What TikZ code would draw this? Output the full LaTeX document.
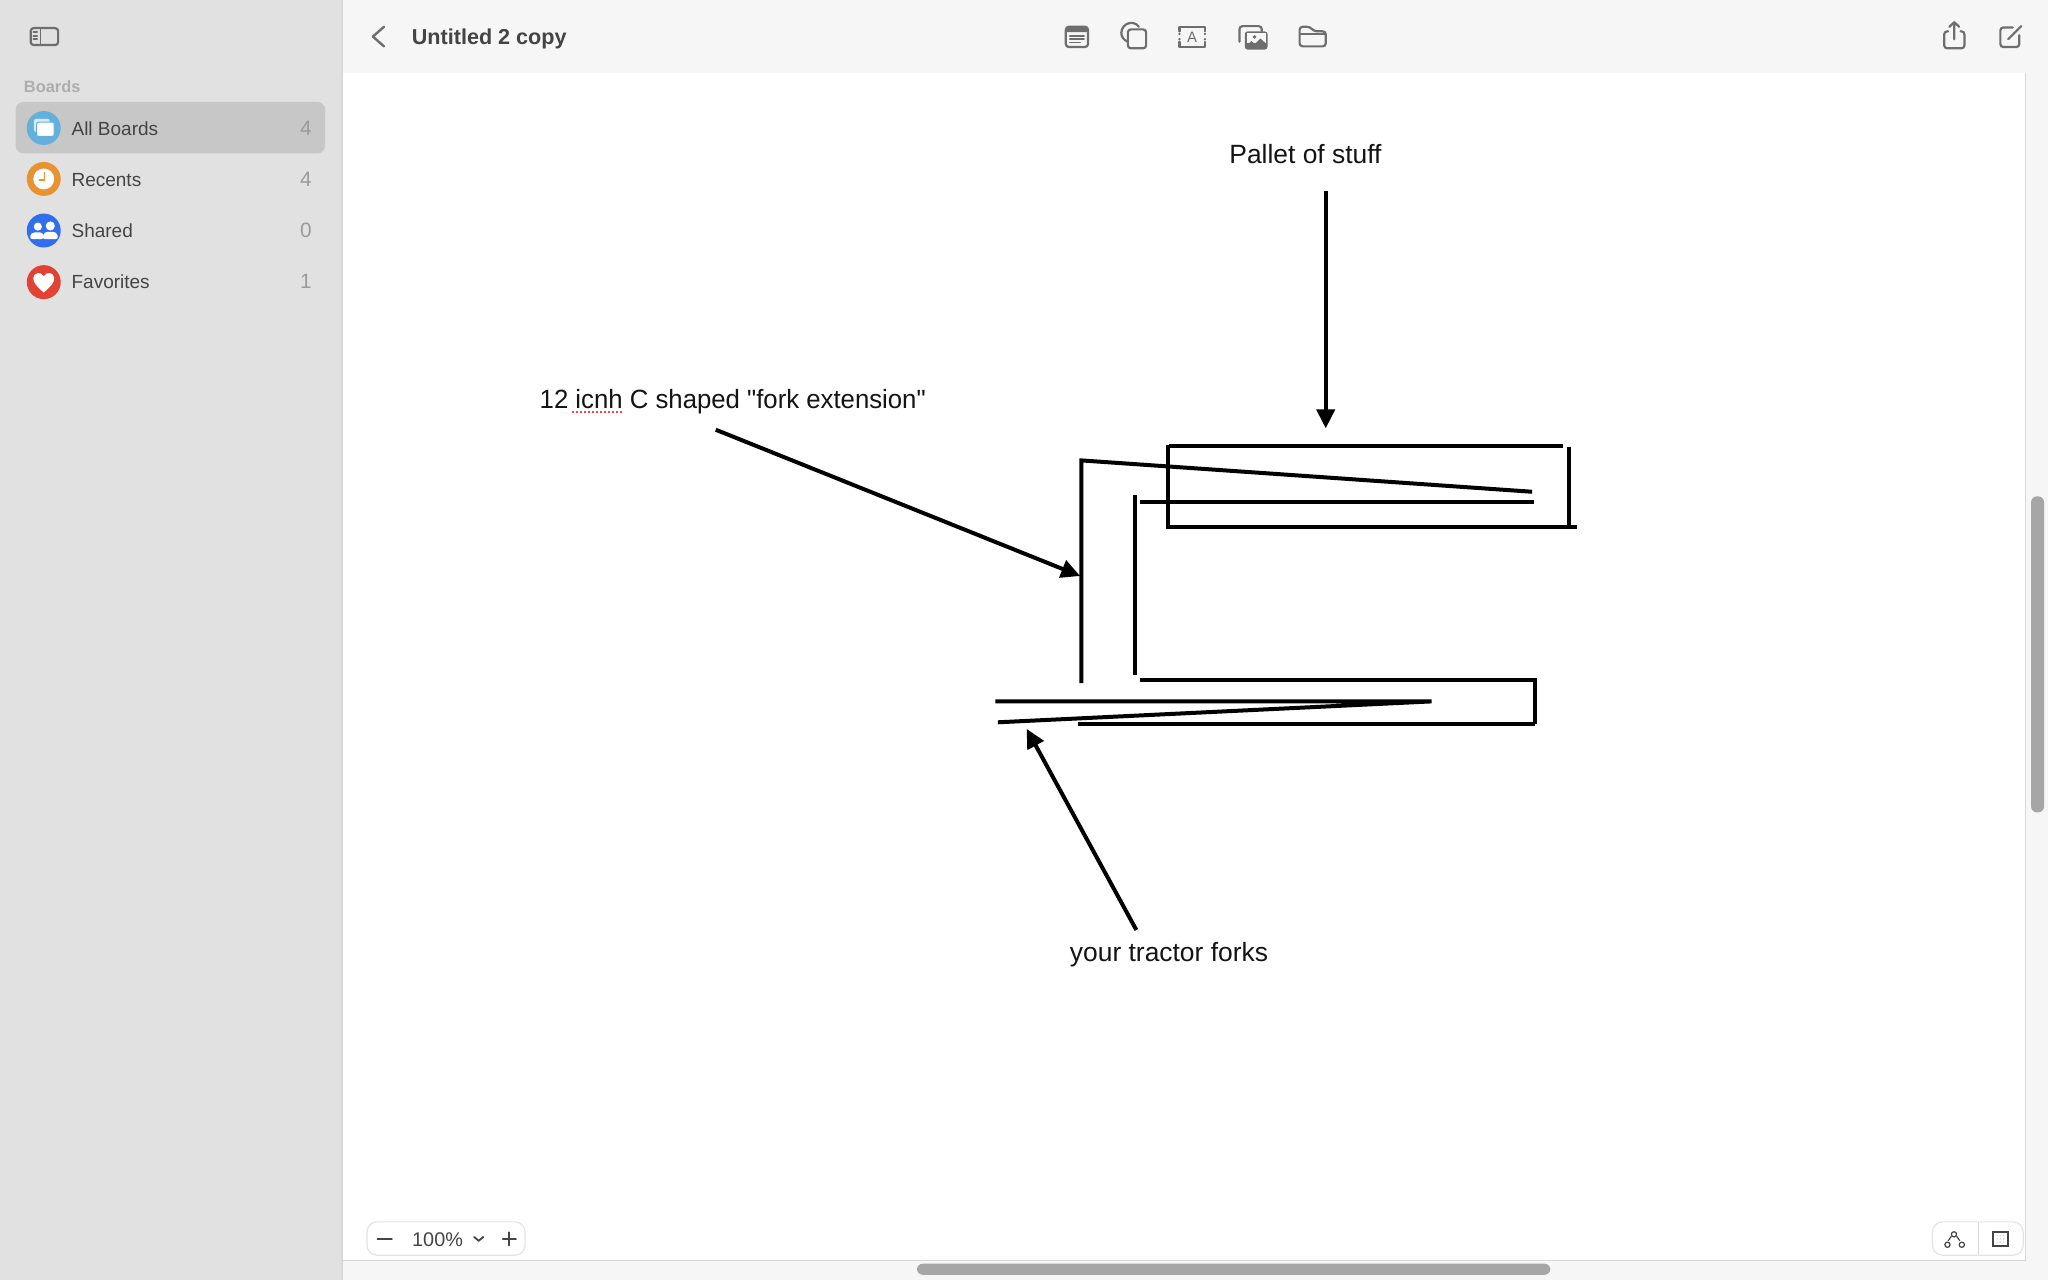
\documentclass[tikz,border=0pt]{standalone}
\usepackage{fontspec}
\usepackage{graphicx}
\setmainfont{Liberation Sans}
\newfontfamily\plainsans{Liberation Sans}
\usetikzlibrary{arrows.meta}
\definecolor{side}{HTML}{E0E1E0}
\definecolor{bar}{HTML}{F6F6F6}
\definecolor{hilite}{HTML}{C6C7C6}
\definecolor{icon}{HTML}{6E6E6E}
\definecolor{itemtext}{HTML}{444444}
\definecolor{count}{HTML}{9A9A9A}
\definecolor{sep}{HTML}{D8D8D8}
\definecolor{thumb}{HTML}{A6A6A6}
\definecolor{cblue}{HTML}{63B0DC}
\definecolor{corange}{HTML}{E89232}
\definecolor{croyal}{HTML}{316EEB}
\definecolor{cred}{HTML}{E24234}
\tikzset{
  x=0.65306pt,y=-0.65306pt,
  ink/.style={line width=2pt,black,line cap=butt,line join=miter},
  pointer/.style={ink,-{Triangle[length=9.5pt,width=9pt]}},
  label/.style={inner sep=0pt,anchor=base,font=\fontsize{13.2}{16}\selectfont\plainsans,text=black!92},
  item/.style={inner sep=0pt,anchor=base west,font=\fontsize{9.5}{12}\selectfont,text=itemtext},
  cnt/.style={inner sep=0pt,anchor=base east,font=\fontsize{10.4}{12}\selectfont,text=count},
  ic/.style={icon,line width=1.1pt,line join=round,line cap=round},
  pill/.style={draw=sep!70!white,fill=white,line width=0.6pt,rounded corners=5pt}
}
\begin{document}
\begin{tikzpicture}
\useasboundingbox (0,0) rectangle (1568,980);
\fill[white] (0,0) rectangle (1568,980);
% chrome
\fill[bar] (262,0) rectangle (1568,56);
\fill[bar] (1551,56) rectangle (1568,980);
\fill[bar] (262,965) rectangle (1568,980);
\draw[sep,line width=0.5pt] (1551,56) -- (1551,965) -- (262,965);
\fill[side] (0,0) rectangle (262,980);
\draw[sep,line width=0.8pt] (262,0) -- (262,980);
\fill[thumb,rounded corners=3pt] (1555,380) rectangle (1565,622);
\fill[thumb,rounded corners=3pt] (702,967.5) rectangle (1187,976);
% sidebar
\draw[ic,rounded corners=1.5pt] (23.5,21.5) rectangle (44.5,34.5);
\draw[ic,line width=0.8pt] (31,21.5) -- (31,34.5);
\draw[ic,line width=0.7pt] (25.5,24.5) -- (28.5,24.5) (25.5,27.5) -- (28.5,27.5) (25.5,30) -- (28.5,30);
\node[inner sep=0pt,anchor=west,font=\fontsize{8.2}{10}\selectfont\bfseries,text=black!32] (boards) at (18,66) {Boards};
\fill[hilite,rounded corners=4pt] (12,78) rectangle (249,117.5);
\fill[cblue] (33.5,98) circle (13);
\fill[white,opacity=.75,rounded corners=1pt] (26,91) rectangle (38,101);
\draw[cblue,fill=white,rounded corners=1pt,line width=.5pt] (28,93.5) rectangle (41.5,104.5);
\fill[corange] (33.5,137) circle (13);
\fill[white] (33.5,137) circle (8);
\draw[corange,line width=.9pt] (34,132) -- (34,138) -- (29.5,138);
\fill[croyal] (33.5,176.5) circle (13);
\fill[white] (29,173.5) circle (3.1) (38.5,173) circle (3.5);
\fill[white,rounded corners=1.5pt] (22.5,183) -- (24,178) -- (33,178) -- (34,183) -- cycle;
\fill[white,rounded corners=1.5pt] (32,183) -- (34,177.5) -- (43,177.5) -- (45,183) -- cycle;
\fill[cred] (33.5,216) circle (13);
\fill[white] (33.5,224) .. controls (28,219) and (25.5,216.5) .. (25.5,213) .. controls (25.5,208.5) and (31.5,207.5) .. (33.5,211.5) .. controls (35.5,207.5) and (41.5,208.5) .. (41.5,213) .. controls (41.5,216.5) and (39,219) .. (33.5,224) -- cycle;
\node[item] (i1) at (54.5,103.5) {All Boards};
\node[item] (i2) at (54.5,142.7) {Recents};
\node[item] (i3) at (54.5,181.9) {Shared};
\node[item] (i4) at (54.5,221) {Favorites};
\node[cnt] (n1) at (239,103.5) {4};
\node[cnt] (n2) at (239,142.7) {4};
\node[cnt] (n3) at (239,181.9) {0};
\node[cnt] (n4) at (239,221) {1};
% top bar
\draw[ic,line width=1.2pt] (294,20.5) -- (285.5,28) -- (294,35.5);
\node[inner sep=0pt,anchor=base west,font=\fontsize{10.8}{14}\selectfont\bfseries,text=itemtext] (title) at (315,33.8) {Untitled 2 copy};
% toolbar icons
\draw[ic,rounded corners=1.5pt] (816,20.5) rectangle (833,36);
\fill[icon,rounded corners=1pt] (816,20.5) rectangle (833,24.5);
\draw[ic,line width=.7pt] (819,27.5) -- (830,27.5) (819,30) -- (830,30) (819,32.5) -- (827,32.5);
\draw[ic] (872,20.5) .. controls (868,15) and (859,17.5) .. (858.5,25) .. controls (858.5,28) and (860,30.5) .. (863.5,32);
\draw[ic,rounded corners=1.5pt] (863.5,22.5) rectangle (877.5,37);
\draw[ic] (903,24) -- (903,20.5) -- (922.5,20.5) -- (922.5,24) (903,32) -- (903,36) -- (922.5,36) -- (922.5,32);
\fill[icon] (903,26) circle (1) (903,30) circle (1) (922.5,26) circle (1) (922.5,30) circle (1);
\node[inner sep=0pt,font=\fontsize{7.5}{9}\selectfont,text=icon] (iconA) at (912.7,28.3) {A};
\draw[ic,rounded corners=1.5pt] (949,32) -- (949,20) -- (966,20) -- (966,24);
\fill[icon,rounded corners=1.5pt] (953,24) rectangle (970.5,38);
\fill[bar] (954.5,25.5) rectangle (969,33);
\fill[icon] (953.5,36) -- (958,31.5) -- (961,33.5) -- (965,29.5) -- (970,34) -- (970,36) -- cycle;
\fill[icon] (960.5,28.3) circle (1.5);
\draw[ic,rounded corners=1.5pt] (995,35.5) -- (995,20.5) -- (1003,20.5) -- (1006,24) -- (1015,24) -- (1015,35.5) -- cycle;
\draw[ic,line width=.8pt] (995,26) -- (1015,26);
% share and compose
\draw[ic,rounded corners=1.5pt] (1491.5,24) -- (1488.5,24) -- (1488.5,37) -- (1504,37) -- (1504,24) -- (1501,24);
\draw[ic] (1496.2,30) -- (1496.2,17) (1492.5,20.5) -- (1496.2,17) -- (1500,20.5);
\draw[ic,rounded corners=1.5pt] (1541,21) -- (1531.5,21) -- (1531.5,36) -- (1546,36) -- (1546,27);
\draw[ic] (1537.5,30) -- (1547.5,20);
% zoom control
\draw[pill] (281,935.5) rectangle (402,961);
\draw[itemtext,line width=.9pt,line cap=round] (289,948.5) -- (300,948.5) (385,948.5) -- (395,948.5) (390,943.5) -- (390,953.5);
\draw[itemtext,line width=.9pt,line cap=round,line join=round] (363,947) -- (366.5,950) -- (370,947);
\node[inner sep=0pt,font=\fontsize{9.9}{12}\selectfont,text=itemtext] (zoomval) at (335,949) {100\%};
% bottom right control
\draw[pill] (1479.5,935.5) rectangle (1549,961);
\draw[sep,line width=.5pt] (1515,935.5) -- (1515,961);
\draw[itemtext,line width=.6pt] (1496,945) circle (2) (1491,953) circle (2) (1502,953) circle (2);
\draw[itemtext,line width=.6pt] (1491.5,950) -- (1494,946.5) (1500.5,950) -- (1498,946.5);
\draw[itemtext,line width=1pt] (1526,943) rectangle (1537,954);
\fill[sep] (1529,946) circle (.7) (1531.5,946) circle (.7) (1534,946) circle (.7) (1529,948.5) circle (.7) (1531.5,948.5) circle (.7) (1534,948.5) circle (.7) (1529,951) circle (.7) (1531.5,951) circle (.7) (1534,951) circle (.7);
% labels
\node[label] (pallet) at (999.5,124.8) {Pallet of stuff};
\node[label] (ext) at (561,312.6) {\scalebox{.975}[1]{12 icnh C shaped "fork extension"}};
\node[label] (forks) at (895,736.5) {your tractor forks};
\draw[red!75,line width=.8pt,dash pattern=on 1pt off 1pt] (438,315.3) -- (476,315.3);
% coordinates of the sketch
\coordinate (pa) at (1015,146); \coordinate (pb) at (1015,328);
\coordinate (ea) at (548,329); \coordinate (eb) at (827,441);
\coordinate (fa) at (870,712); \coordinate (fb) at (786,558);
\coordinate (r1) at (895,341.4); \coordinate (r2) at (1197,341.4);
\coordinate (r3) at (894,341); \coordinate (r4) at (894,405);
\coordinate (r5) at (894,403.3); \coordinate (r6) at (1207,403.3);
\coordinate (r7) at (1201,342); \coordinate (r8) at (1201,405);
\coordinate (c1a) at (828,523); \coordinate (c1b) at (828,352.5); \coordinate (c1c) at (1173,376.5);
\coordinate (c2a) at (869,379); \coordinate (c2b) at (869,517);
\coordinate (c3a) at (873,384.7); \coordinate (c3b) at (1174.5,384.7);
\coordinate (c4a) at (873,520.3); \coordinate (c4b) at (1175,520.3); \coordinate (c4c) at (1175,554);
\coordinate (c5a) at (825,554);
\coordinate (f1) at (762,537); \coordinate (f2) at (1096,537); \coordinate (f3) at (764,553);
% sketch
\draw[pointer] (pa) -- (pb);
\draw[pointer] (ea) -- (eb);
\draw[pointer] (fa) -- (fb);
\draw[ink] (r1) -- (r2);
\draw[ink] (r3) -- (r4);
\draw[ink] (r5) -- (r6);
\draw[ink] (r7) -- (r8);
\draw[ink] (c1a) -- (c1b) -- (c1c);
\draw[ink] (c2a) -- (c2b);
\draw[ink] (c3a) -- (c3b);
\draw[ink] (c4a) -- (c4b) -- (c4c);
\draw[ink] (c5a) -- (c4c);
\draw[ink] (f1) -- (f2) -- (f3);
\end{tikzpicture}
\end{document}
